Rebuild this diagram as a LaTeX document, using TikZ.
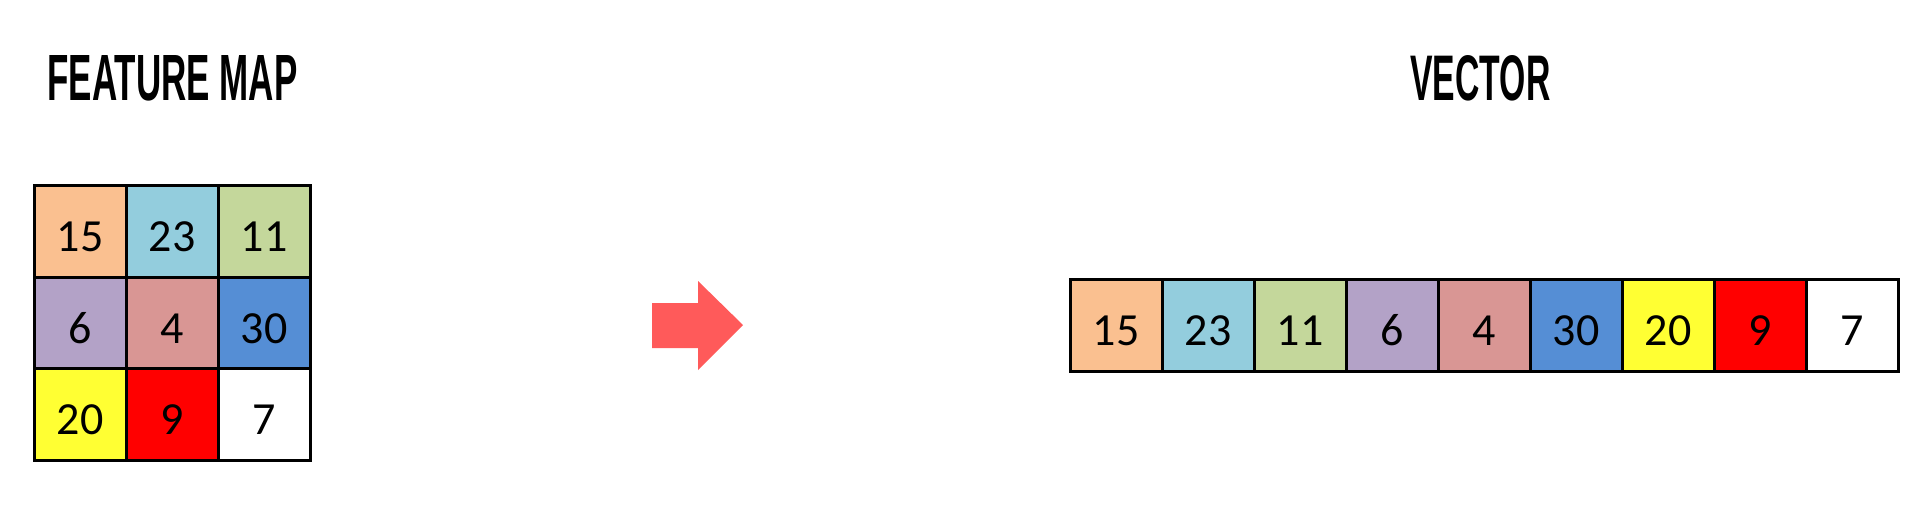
\documentclass[tikz,border=0pt]{standalone}
\usepackage{fontspec}
\setmainfont{Carlito}
\newfontfamily\titlefont{Liberation Sans}
\usepackage{graphicx}
\definecolor{cOrange}{HTML}{FAC090}
\definecolor{cLBlue}{HTML}{93CDDD}
\definecolor{cGreen}{HTML}{C4D79B}
\definecolor{cPurple}{HTML}{B3A2C7}
\definecolor{cRose}{HTML}{D99694}
\definecolor{cBlue}{HTML}{558ED5}
\definecolor{cYellow}{HTML}{FFFF33}
\definecolor{cRed}{HTML}{FF0000}
\definecolor{cArrow}{HTML}{FF5A5A}
\begin{document}
\begin{tikzpicture}[x=0.5pt,y=-0.5pt,
  cell/.style={draw=black, line width=1.5pt, minimum size=46pt, inner sep=0pt,
    font=\fontsize{23pt}{27pt}\selectfont, text height=20pt, text depth=0pt},
  ttl/.style={inner sep=0pt, anchor=north west}]
\useasboundingbox (0,0) rectangle (1926,516);
% titles
\node[ttl] (tfm) at (47,55) {\resizebox{125pt}{22.5pt}{\titlefont\bfseries FEATURE MAP}};
\node[ttl] (tvec) at (1410,55) {\resizebox{70pt}{22.5pt}{\titlefont\bfseries VECTOR}};
% feature map
\node[cell, fill=cOrange] (m11) at (80,231) {15};
\node[cell, fill=cLBlue]  (m12) at (172,231) {23};
\node[cell, fill=cGreen]  (m13) at (264,231) {11};
\node[cell, fill=cPurple] (m21) at (80,323) {6};
\node[cell, fill=cRose]   (m22) at (172,323) {4};
\node[cell, fill=cBlue]   (m23) at (264,323) {30};
\node[cell, fill=cYellow] (m31) at (80,414) {20};
\node[cell, fill=cRed]    (m32) at (172,414) {9};
\node[cell, fill=white]   (m33) at (264,414) {7};
% arrow
\fill[cArrow] (652,303) -- (698,303) -- (698,281) -- (743,325) -- (698,370) -- (698,348) -- (652,348) -- cycle;
% vector
\node[cell, fill=cOrange] (v1) at (1116,325) {15};
\node[cell, fill=cLBlue]  (v2) at (1208,325) {23};
\node[cell, fill=cGreen]  (v3) at (1300,325) {11};
\node[cell, fill=cPurple] (v4) at (1392,325) {6};
\node[cell, fill=cRose]   (v5) at (1484,325) {4};
\node[cell, fill=cBlue]   (v6) at (1576,325) {30};
\node[cell, fill=cYellow] (v7) at (1668,325) {20};
\node[cell, fill=cRed]    (v8) at (1760,325) {9};
\node[cell, fill=white]   (v9) at (1852,325) {7};
\end{tikzpicture}
\end{document}
